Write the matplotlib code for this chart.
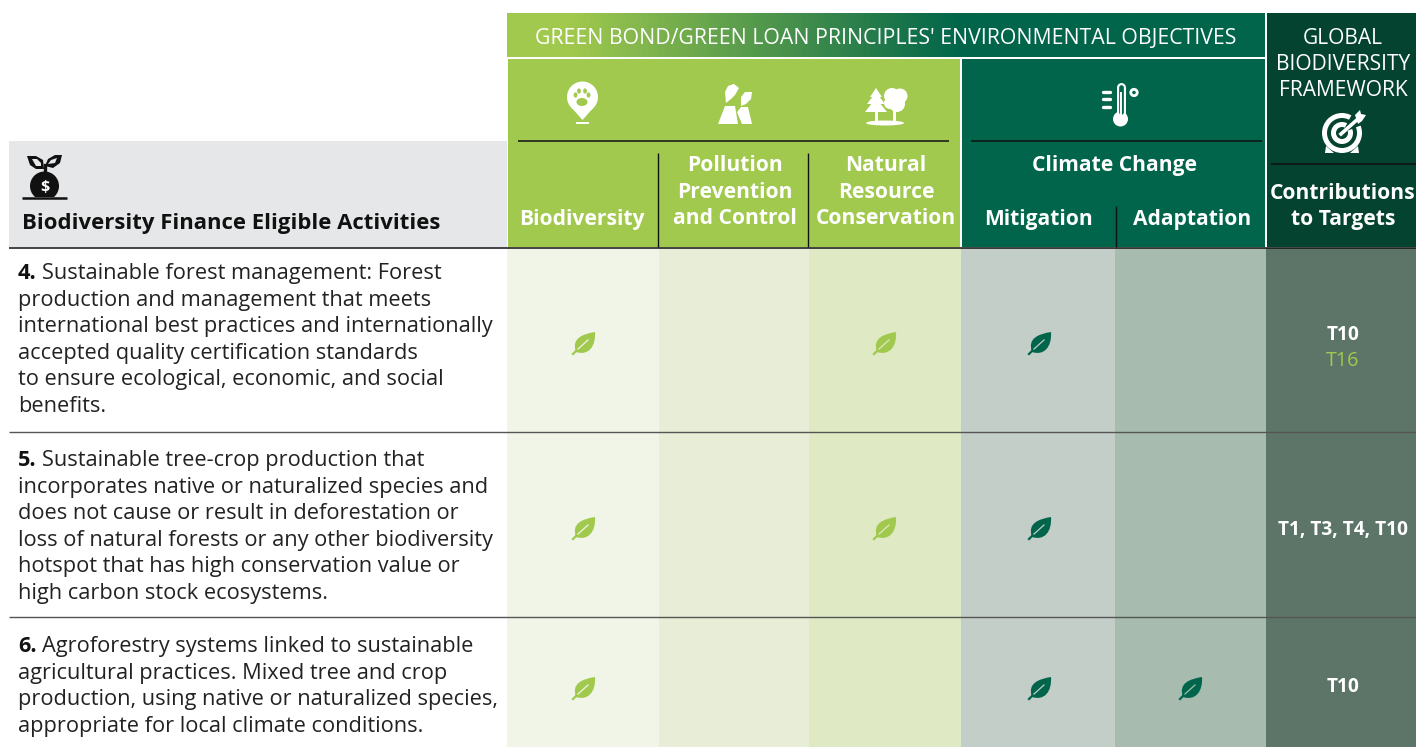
import numpy as np
import matplotlib
matplotlib.use('Agg')
import matplotlib.pyplot as plt
from matplotlib.colors import LinearSegmentedColormap
from matplotlib.patches import Rectangle, Circle, Ellipse, PathPatch, Wedge
from matplotlib.path import Path

plt.rcParams['font.family'] = ['Open Sans', 'DejaVu Sans']

# data
row_numbers = ['4.', '5.', '6.']
row_lines = [
    ['Sustainable forest management: Forest',
     'production and management that meets',
     'international best practices and internationally',
     'accepted quality certification standards',
     'to ensure ecological, economic, and social',
     'benefits.'],
    ['Sustainable tree-crop production that',
     'incorporates native or naturalized species and',
     'does not cause or result in deforestation or',
     'loss of natural forests or any other biodiversity',
     'hotspot that has high conservation value or',
     'high carbon stock ecosystems.'],
    ['Agroforestry systems linked to sustainable',
     'agricultural practices. Mixed tree and crop',
     'production, using native or naturalized species,',
     'appropriate for local climate conditions.'],
]
leaf_flags = [
    [1, 0, 1, 1, 0],
    [1, 0, 1, 1, 0],
    [1, 0, 0, 1, 1],
]
targets_main = ['T10', 'T1, T3, T4, T10', 'T10']
targets_other = ['T16', '', '']

LIGHT = '#A1C94E'
DARK = '#00654A'
DARKER = '#04432F'
col_edges = [507, 659, 809, 961, 1115, 1266, 1416]
col_fill = ['#F1F5E7', '#E7EDD6', '#DFE9C3', '#C3CEC8', '#A7BBAE', '#5D7568']
leaf_col = [LIGHT, LIGHT, LIGHT, DARK, DARK]
leaf_x = [584, 735, 885, 1040, 1191]
row_leaf_y = [343, 528, 688]
row_target_y = [334, 529, 686]
row_text_y = [273.5, 460.5, 646.5]
LINE_H = 26.6

fig = plt.figure(figsize=(14.16, 7.47), dpi=100)
ax = fig.add_axes([0, 0, 1, 1])
ax.set_xlim(0, 1416)
ax.set_ylim(747, 0)
ax.axis('off')


def rect(x0, y0, x1, y1, c, z=1):
    ax.add_patch(Rectangle((x0, y0), x1 - x0, y1 - y0, fc=c, ec='none', zorder=z))


def hline(y, x0, x1, lw=1.1, c='#111111'):
    ax.plot([x0, x1], [y, y], color=c, lw=lw, zorder=4, solid_capstyle='butt')


def vline(x, y0, y1, lw=1.0):
    ax.plot([x, x], [y0, y1], color='#111111', lw=lw, zorder=4, solid_capstyle='butt')


def label(x, y, s, size=15.1, weight='bold', color='white', ha='center', z=6):
    return ax.text(x, y, s, fontsize=size, fontweight=weight, color=color, ha=ha, va='center', zorder=z)


def blob(verts, c, z=5):
    codes = [Path.MOVETO] + [Path.LINETO] * (len(verts) - 1) + [Path.CLOSEPOLY]
    ax.add_patch(PathPatch(Path(list(verts) + [verts[0]], codes), fc=c, ec='none', zorder=z))


def leaf(cx, cy, c, bg):
    verts = [(-8, 9), (-13, -5), (-1, -9), (11, -11), (12, 4), (4, 13), (-8, 9), (-8, 9)]
    codes = [Path.MOVETO, Path.CURVE4, Path.CURVE4, Path.CURVE4, Path.CURVE4, Path.CURVE4, Path.CURVE4, Path.CLOSEPOLY]
    ax.add_patch(PathPatch(Path([(cx + a, cy + b) for a, b in verts], codes), fc=c, ec='none', zorder=5))
    ax.plot([cx - 11, cx - 7], [cy + 11, cy + 7], color=c, lw=1.6, zorder=5)
    ax.plot([cx - 6, cx + 4], [cy + 6, cy - 3], color=bg, lw=0.9, zorder=6)


# header backgrounds
grad = LinearSegmentedColormap.from_list('g', [(0, LIGHT), (0.08, LIGHT), (0.6, DARK), (1, DARK)])
ax.imshow(np.linspace(0, 1, 400).reshape(1, -1), extent=[507, 1265, 57, 13], cmap=grad, aspect='auto', zorder=1)
ax.set_xlim(0, 1416)
ax.set_ylim(747, 0)
rect(508, 59, 960, 247, LIGHT)
rect(962, 59, 1265, 247, DARK)
rect(1267, 13, 1416, 247, DARKER)
rect(9, 141, 507, 247, '#E6E7E8')

# body columns
for i, c in enumerate(col_fill):
    rect(col_edges[i], 248, col_edges[i + 1] - (0.5 if i < 5 else 0), 747, c)

# rules
hline(247.5, 9, 1416)
hline(432, 9, 1416, 1.0, '#555555')
hline(617, 9, 1416, 1.0, '#555555')
hline(140.5, 518, 949)
hline(140.5, 971, 1262)
hline(163.5, 1271, 1416)
vline(658, 153, 247)
vline(808, 153, 247)
vline(1115.5, 206, 247)

# header text
label(886, 38, "GREEN BOND/GREEN LOAN PRINCIPLES' ENVIRONMENTAL OBJECTIVES", size=15.3, weight='normal')
label(1343, 38, 'GLOBAL', size=15.1, weight='normal')
label(1343, 64, 'BIODIVERSITY', size=15.1, weight='normal')
label(1343, 90.5, 'FRAMEWORK', size=15.1, weight='normal')
label(582, 220, 'Biodiversity')
label(735, 165.5, 'Pollution')
label(735, 192.5, 'Prevention')
label(735, 219, 'and Control')
label(886, 165.5, 'Natural')
label(886, 192.5, 'Resource')
label(886, 219, 'Conservation')
label(1115, 166, 'Climate Change')
label(1038, 220, 'Mitigation')
label(1192, 220, 'Adaptation')
label(1343, 193.5, 'Contributions')
label(1343, 220, 'to Targets')
label(22, 224, 'Biodiversity Finance Eligible Activities', size=15.9, color='#111111', ha='left')

# body text
fig.canvas.draw()
rend = fig.canvas.get_renderer()
for num, lines, y0 in zip(row_numbers, row_lines, row_text_y):
    t = label(18, y0, num, size=15.7, color='#111111', ha='left')
    w = t.get_window_extent(rend).width
    for j, line in enumerate(lines):
        x = 18 + w + 5 if j == 0 else 18
        label(x, y0 + j * LINE_H, line, size=15.7, weight='normal', color='#222222', ha='left')

# leaves
for flags, y in zip(leaf_flags, row_leaf_y):
    for i, f in enumerate(flags):
        if f:
            leaf(leaf_x[i], y, leaf_col[i], col_fill[i])

# targets
for main, other, y in zip(targets_main, targets_other, row_target_y):
    label(1343, y + 1, main, size=13.8)
    if other:
        label(1343, y + 27, other, size=14.2, weight='normal', color=LIGHT)

W = 'white'
# paw pin icon
ax.add_patch(Circle((582.5, 97), 15.5, fc=W, ec='none', zorder=5))
blob([(571, 107), (594, 107), (582.5, 120)], W)
rect(576, 122, 589, 124, W, 5)
ax.add_patch(Ellipse((582, 102), 11, 8, fc=LIGHT, ec='none', zorder=6))
for dx, dy in [(-6.5, -3.5), (-3, -7.5), (3, -7.5), (6.5, -3.5)]:
    ax.add_patch(Ellipse((582 + dx, 98.5 + dy), 3.8, 5.2, fc=LIGHT, ec='none', zorder=6))

# factory icon
blob([(725, 106), (735, 106), (738, 124), (718, 124)], W)
blob([(741, 107), (748, 107), (752, 124), (742, 124), (737, 112)], W)
blob([(726, 103), (725, 92), (728, 86), (734, 84), (739, 88), (735, 95), (731, 99)], W)
blob([(741, 106), (741, 97), (745, 92), (752, 92), (751, 99), (746, 104)], W)

# trees icon
for (x0, x1, y0, y1) in [(865, 887, 112, 98), (867, 885, 104, 92), (870, 882, 97, 88)]:
    blob([(x0, y0), (x1, y0), ((x0 + x1) / 2, y1)], W)
rect(874.5, 111, 877.5, 122, W, 5)
for cx, cy, r in [(892, 96, 8), (900, 96, 7.5), (897, 104, 8), (890, 103, 6)]:
    ax.add_patch(Circle((cx, cy), r, fc=W, ec='none', zorder=5))
rect(892.5, 106, 895.5, 122, W, 5)
ax.add_patch(Ellipse((885, 123), 38, 5, fc=W, ec='none', zorder=5))

# thermometer icon
ax.add_patch(Circle((1120.5, 119), 7.5, fc=W, ec='none', zorder=5))
ax.plot([1120.5, 1120.5], [87, 116], color=W, lw=6.5, solid_capstyle='round', zorder=5)
ax.plot([1120.5, 1120.5], [87, 112], color=DARK, lw=3.4, solid_capstyle='round', zorder=6)
ax.plot([1120.5, 1120.5], [93, 116], color=W, lw=1.4, zorder=7)
for y in [92, 99, 107]:
    ax.plot([1103, 1110], [y, y], color=W, lw=2.4, solid_capstyle='round', zorder=5)
ax.add_patch(Circle((1134, 92.5), 3.2, fc='none', ec=W, lw=2, zorder=5))

# target icon
ax.add_patch(Circle((1342, 133), 20, fc=W, ec='none', zorder=5))
ax.add_patch(Circle((1342, 133), 15, fc=DARKER, ec='none', zorder=6))
ax.add_patch(Circle((1342, 133), 11, fc=W, ec='none', zorder=7))
ax.add_patch(Circle((1342, 133), 6, fc=DARKER, ec='none', zorder=8))
ax.add_patch(Wedge((1342, 133), 23, -62, -22, fc=DARKER, ec='none', zorder=8))
ax.plot([1341, 1359], [134, 118], color=W, lw=2.6, zorder=9)
blob([(1355, 115), (1360, 110), (1361, 114), (1366, 115), (1362, 121), (1358, 124)], W, 9)
blob([(1326, 146), (1334, 153), (1325, 153)], W)
blob([(1358, 146), (1350, 153), (1359, 153)], W)

# money plant icon
K = '#111111'
ax.add_patch(Circle((44.5, 186), 14.5, fc=K, ec='none', zorder=5))
rect(22, 197, 67, 208, '#E6E7E8', 5.5)
ax.plot([22, 66.5], [198, 198], color=K, lw=1.8, zorder=6, solid_capstyle='butt')
ax.plot([44.5, 44.5], [165, 176], color=K, lw=2.4, zorder=5)
blob([(27, 156), (36, 156), (43, 160), (44, 169), (36, 169), (30, 165)], K)
blob([(45, 166), (48, 159), (55, 155), (62, 155), (60, 163), (53, 168)], K)
blob([(32, 159), (37, 159), (41, 163), (41, 166), (36, 166)], '#E6E7E8', 6)
blob([(48, 164), (51, 160), (57, 158), (55, 163)], '#E6E7E8', 6)
ax.text(44.5, 188, '$', fontsize=11.5, fontweight='bold', color='white', ha='center', va='center', zorder=6)

fig.savefig('out.png', dpi=100)
